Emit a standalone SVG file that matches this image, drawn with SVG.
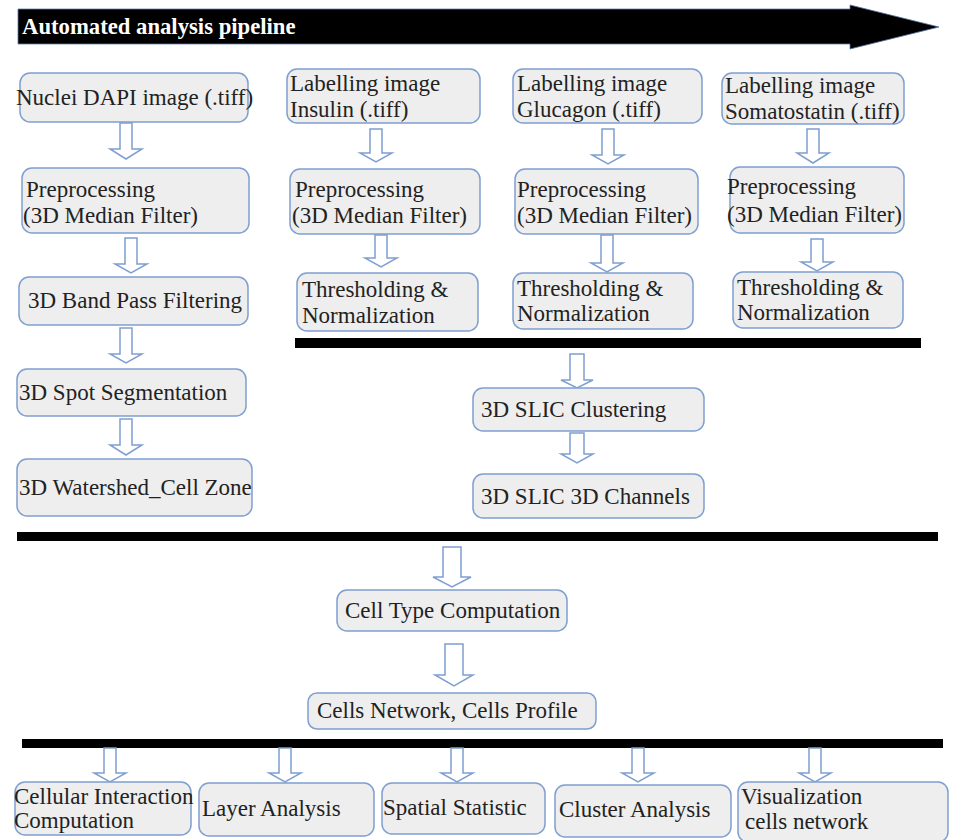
<svg xmlns="http://www.w3.org/2000/svg" width="962" height="840" viewBox="0 0 962 840">
<style>
.box{fill:#eeeeee;stroke:#7f9fd0;stroke-width:1.5}
.t{font-family:"Liberation Serif","Times New Roman",serif;font-size:23px;fill:#222}
.ar{fill:#ffffff;stroke:#7f9fd0;stroke-width:1.5;stroke-linejoin:miter}
.bar{fill:#000}
</style>
<rect width="962" height="840" fill="#ffffff"/>
<g id="title">
<polygon points="18,9 850,9 850,5 939,27 850,49 850,44 18,44" fill="#000" stroke="#5a78a8" stroke-width="0.8"/>
<text x="22" y="34" font-family="'Liberation Serif','Times New Roman',serif" font-size="22.7" font-weight="bold" fill="#ffffff">Automated analysis pipeline</text>
</g>
<g id="bars">
<rect class="bar" x="295" y="338" width="626" height="10"/>
<rect class="bar" x="17" y="532" width="921" height="9"/>
<rect class="bar" x="22" y="739" width="921" height="9"/>
</g>
<g id="connectors">
<polygon class="ar" points="120,123 132,123 132,149 142,149 126,159 110,149 120,149"/>
<polygon class="ar" points="125,238 137,238 137,264 147,264 131,273 115,264 125,264"/>
<polygon class="ar" points="120,328 132,328 132,354 142,354 126,363 110,354 120,354"/>
<polygon class="ar" points="120,419 132,419 132,445 142,445 126,455 110,445 120,445"/>
<polygon class="ar" points="370,129 382,129 382,153 392,153 376,162 360,153 370,153"/>
<polygon class="ar" points="375,235 387,235 387,258 397,258 381,267 365,258 375,258"/>
<polygon class="ar" points="602,129 614,129 614,155 624,155 608,164 592,155 602,155"/>
<polygon class="ar" points="601,235 613,235 613,263 623,263 607,272 591,263 601,263"/>
<polygon class="ar" points="807,129 819,129 819,153 829,153 813,163 797,153 807,153"/>
<polygon class="ar" points="811,239 823,239 823,262 833,262 817,271 801,262 811,262"/>
<polygon class="ar" points="570,354 584,354 584,380 593,380 577,388 561,380 570,380"/>
<polygon class="ar" points="570,433 584,433 584,454 593,454 577,463 561,454 570,454"/>
<polygon class="ar" points="443,547 461,547 461,577 471,577 452,587 433,577 443,577"/>
<polygon class="ar" points="445,644 463,644 463,675 473,675 454,686 435,675 445,675"/>
<polygon class="ar" points="104,748 116,748 116,773 126,773 110,782 94,773 104,773"/>
<polygon class="ar" points="279,748 291,748 291,773 301,773 285,782 269,773 279,773"/>
<polygon class="ar" points="451,748 463,748 463,773 473,773 457,782 441,773 451,773"/>
<polygon class="ar" points="632,748 644,748 644,773 654,773 638,782 622,773 632,773"/>
<polygon class="ar" points="809,748 821,748 821,773 831,773 815,782 799,773 809,773"/>
</g>
<g id="n-dapi"><rect class="box" x="20" y="73" width="228" height="49" rx="10"/><text class="t" x="16" y="105">Nuclei DAPI image (.tiff)</text></g>
<g id="n-pre1"><rect class="box" x="22" y="168" width="227" height="65" rx="10"/><text class="t" x="26" y="197">Preprocessing</text><text class="t" x="23" y="223">(3D Median Filter)</text></g>
<g id="n-band"><rect class="box" x="19" y="277" width="229" height="48" rx="10"/><text class="t" x="28" y="308">3D Band Pass Filtering</text></g>
<g id="n-spot"><rect class="box" x="17" y="369" width="229" height="47" rx="10"/><text class="t" x="19" y="400">3D Spot Segmentation</text></g>
<g id="n-water"><rect class="box" x="17" y="459" width="235" height="57" rx="10"/><text class="t" x="19" y="495">3D Watershed_Cell Zone</text></g>
<g id="n-ins"><rect class="box" x="287" y="69" width="193" height="54" rx="10"/><text class="t" x="290" y="91">Labelling image</text><text class="t" x="290" y="117">Insulin (.tiff)</text></g>
<g id="n-pre2"><rect class="box" x="290" y="169" width="190" height="65" rx="10"/><text class="t" x="295" y="197">Preprocessing</text><text class="t" x="292" y="223">(3D Median Filter)</text></g>
<g id="n-thr2"><rect class="box" x="297" y="273" width="181" height="58" rx="10"/><text class="t" x="302" y="297">Thresholding &amp;</text><text class="t" x="302" y="323">Normalization</text></g>
<g id="n-glu"><rect class="box" x="513" y="69" width="189" height="54" rx="10"/><text class="t" x="517" y="91">Labelling image</text><text class="t" x="517" y="117">Glucagon (.tiff)</text></g>
<g id="n-pre3"><rect class="box" x="515" y="169" width="183" height="65" rx="10"/><text class="t" x="517" y="197">Preprocessing</text><text class="t" x="517" y="223">(3D Median Filter)</text></g>
<g id="n-thr3"><rect class="box" x="513" y="273" width="180" height="56" rx="10"/><text class="t" x="517" y="296">Thresholding &amp;</text><text class="t" x="517" y="321">Normalization</text></g>
<g id="n-som"><rect class="box" x="722" y="73" width="182" height="51" rx="10"/><text class="t" x="725" y="93">Labelling image</text><text class="t" x="725" y="119">Somatostatin (.tiff)</text></g>
<g id="n-pre4"><rect class="box" x="730" y="167" width="174" height="66" rx="10"/><text class="t" x="727" y="194">Preprocessing</text><text class="t" x="727" y="222">(3D Median Filter)</text></g>
<g id="n-thr4"><rect class="box" x="733" y="272" width="170" height="56" rx="10"/><text class="t" x="737" y="295">Thresholding &amp;</text><text class="t" x="737" y="320">Normalization</text></g>
<g id="n-slic1"><rect class="box" x="473" y="388" width="231" height="43" rx="10"/><text class="t" x="481" y="417">3D SLIC Clustering</text></g>
<g id="n-slic2"><rect class="box" x="473" y="474" width="231" height="44" rx="10"/><text class="t" x="481" y="504">3D SLIC 3D Channels</text></g>
<g id="n-celltype"><rect class="box" x="337" y="590" width="230" height="41" rx="10"/><text class="t" x="345" y="618">Cell Type Computation</text></g>
<g id="n-network"><rect class="box" x="308" y="693" width="288" height="36" rx="9"/><text class="t" x="317" y="718">Cells Network, Cells Profile</text></g>
<g id="n-cellular"><rect class="box" x="15" y="782" width="176" height="53" rx="10"/><text class="t" x="14" y="804">Cellular Interaction</text><text class="t" x="14" y="828">Computation</text></g>
<g id="n-layer"><rect class="box" x="199" y="783" width="175" height="53" rx="10"/><text class="t" x="202" y="816">Layer Analysis</text></g>
<g id="n-spatial"><rect class="box" x="382" y="783" width="163" height="51" rx="10"/><text class="t" x="383" y="815">Spatial Statistic</text></g>
<g id="n-cluster"><rect class="box" x="555" y="785" width="176" height="52" rx="10"/><text class="t" x="559" y="817">Cluster Analysis</text></g>
<g id="n-vis"><rect class="box" x="738" y="782" width="210" height="60" rx="10"/><text class="t" x="741" y="804">Visualization</text><text class="t" x="745" y="829">cells network</text></g>
</svg>
